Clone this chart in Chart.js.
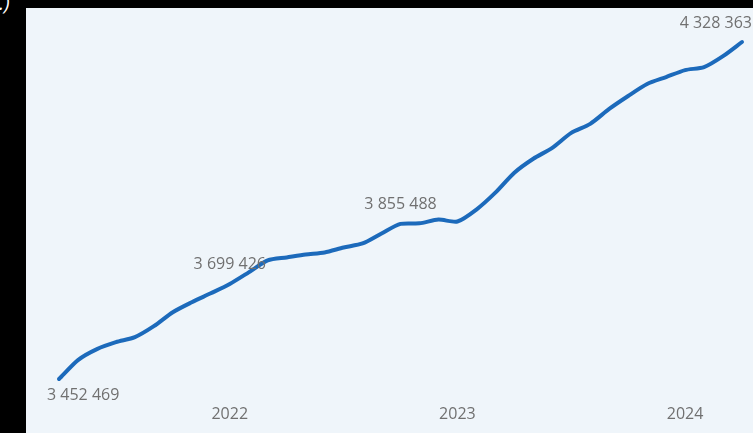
<!DOCTYPE html>
<html>
<head>
<meta charset="utf-8">
<script src="https://cdn.jsdelivr.net/npm/chart.js@4/dist/chart.umd.min.js"></script>
<style>
    html, body { margin: 0; padding: 0; background: #000; width: 753px; height: 433px; overflow: hidden; }
    .cut { position: absolute; left: -1px; top: -11px; color: #fff; font: italic 20px "Open Sans", sans-serif; }
    .panel { position: absolute; left: 26px; top: 8px; width: 727px; height: 425px; background: #eff5fa; }
</style>
</head>
<body>
<div class="cut">.)</div>
<div class="panel"><canvas id="popChart" width="727" height="425"></canvas></div>
<script>
// ===== DATA (monthly, Apr 2021 - Apr 2024) =====
const months = [
    '2021-04', '2021-05', '2021-06', '2021-07', '2021-08', '2021-09', '2021-10', '2021-11', '2021-12',
    '2022-01', '2022-02', '2022-03', '2022-04', '2022-05', '2022-06', '2022-07', '2022-08', '2022-09', '2022-10', '2022-11', '2022-12',
    '2023-01', '2023-02', '2023-03', '2023-04', '2023-05', '2023-06', '2023-07', '2023-08', '2023-09', '2023-10', '2023-11', '2023-12',
    '2024-01', '2024-02', '2024-03', '2024-04'
];
const values = [
    3452469, 3501700, 3530200, 3548300, 3561250, 3589700, 3626000, 3651900, 3675200,
    3699426, 3729600, 3760700, 3768400, 3776200, 3781400, 3794300, 3804700, 3830600, 3855488, 3857000, 3866900,
    3861700, 3892800, 3936800, 3988600, 4024900, 4053300, 4092200, 4115500, 4154400, 4188000, 4219100, 4237200,
    4255400, 4263100, 4291600, 4328363
];
// points that carry a value label
const labeledPoints = [0, 9, 18, 36];

function fmt(n) {
    return String(n).replace(/\B(?=(\d{3})+(?!\d))/g, ' ');
}

// ===== VALUE LABELS =====
const valueLabels = {
    id: 'valueLabels',
    afterDatasetsDraw(chart) {
        const c = chart.ctx;
        const meta = chart.getDatasetMeta(0);
        const last = values.length - 1;
        c.save();
        c.font = '16px "Open Sans", sans-serif';
        c.fillStyle = '#707070';
        c.textBaseline = 'middle';
        labeledPoints.forEach(i => {
            const pt = meta.data[i];
            let x = pt.x, y = pt.y - 20;
            c.textAlign = 'center';
            if (i === 0) { c.textAlign = 'left'; x = pt.x - 12; y = pt.y + 16; }
            if (i === last) { c.textAlign = 'right'; x = chart.width - 1; y = pt.y - 19; }
            c.fillText(fmt(values[i]), x, y);
        });
        c.restore();
    }
};

document.addEventListener('DOMContentLoaded', function() {
    const ctx = document.getElementById('popChart');

    new Chart(ctx, {
        type: 'line',
        data: {
            labels: months,
            datasets: [{
                data: values,
                borderColor: '#1c6abb',
                borderWidth: 4,
                tension: 0.25,
                pointRadius: 0,
                fill: false,
                clip: 6,
                borderCapStyle: 'round'
            }]
        },
        options: {
            responsive: false,
            animation: false,
            layout: { autoPadding: false, padding: { top: 34, left: 33, right: 11, bottom: 9 } },
            plugins: { legend: { display: false }, tooltip: { enabled: false } },
            scales: {
                y: { display: false, min: values[0], max: values[values.length - 1] },
                x: {
                    grid: { display: false, drawTicks: false },
                    border: { display: false },
                    afterFit: function(scale) {
                        // keep tick padding from widening the plot sides
                        scale.paddingLeft = 0;
                        scale.paddingRight = 0;
                        scale.height = 45;
                    },
                    ticks: {
                        autoSkip: false,
                        maxRotation: 0,
                        padding: 26,
                        color: '#707070',
                        font: { family: '"Open Sans", sans-serif', size: 16 },
                        callback: function(v, i) {
                            const m = months[i];
                            return m.endsWith('-01') ? m.slice(0, 4) : '';
                        }
                    }
                }
            }
        },
        plugins: [valueLabels]
    });
});
</script>
</body>
</html>
